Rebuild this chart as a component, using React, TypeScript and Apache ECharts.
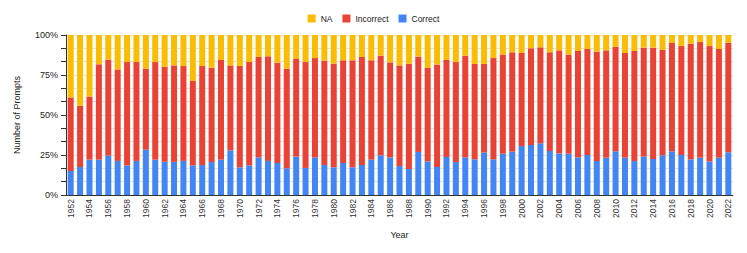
import React, { useEffect, useRef } from "react";
import * as echarts from "echarts";

const years: string[] = [];
for (let y = 1952; y <= 2022; y++) years.push(String(y));

const correct = [
  15, 17.5, 22.1, 22.1, 24.6, 21.3, 18.5, 21.3, 28.3, 22.1,
  20.8, 20.7, 21.3, 18.5, 18.75, 20.6, 22.1, 27.9, 17.3, 18.5,
  23.5, 21.3, 20, 16.7, 24, 16.9, 23.5, 18.75, 17.3, 20,
  17.3, 18.75, 22.1, 24.8, 23.5, 18.1, 16.25, 26.9, 21, 17.5,
  23.75, 20.6, 23.5, 22.3, 26.5, 22.3, 25.8, 27.1, 30.6, 31.25,
  32.3, 27.5, 26, 25.8, 23.5, 25, 21.25, 23.3, 27.3, 23.3,
  21.25, 24, 22.5, 24.8, 27.3, 25, 22.3, 23.3, 21, 23.3,
  26.7,
];

const incorrect = [
  46, 38.3, 39.4, 59.6, 60, 57.2, 64.6, 61.8, 50.7, 61,
  59.4, 60.3, 59.3, 52.8, 61.85, 59, 62.3, 53.1, 63.3, 64.6,
  62.75, 65.4, 62.7, 62.2, 61, 66.2, 62.1, 65.25, 64.8, 64.2,
  66.9, 67.5, 62.1, 62.3, 59.4, 62.9, 65.85, 59.6, 58.4, 64,
  60.65, 62.5, 63.6, 59.6, 55.4, 63.3, 62, 62.1, 58.15, 60.45,
  60, 61.7, 64.4, 61.9, 66.5, 66.25, 68.35, 67.1, 65.3, 65.45,
  68.75, 68.1, 69.6, 66, 67.7, 68.1, 72.3, 72.3, 72.1, 67.95,
  68.5,
];

const na = [
  39, 44.2, 38.5, 18.3, 15.4, 21.5, 16.9, 16.9, 21, 16.9,
  19.8, 19, 19.4, 28.7, 19.4, 20.4, 15.6, 19, 19.4, 16.9,
  13.75, 13.3, 17.3, 21.1, 15, 16.9, 14.4, 16, 17.9, 15.8,
  15.8, 13.75, 15.8, 12.9, 17.1, 19, 17.9, 13.5, 20.6, 18.5,
  15.6, 16.9, 12.9, 18.1, 18.1, 14.4, 12.2, 10.8, 11.25, 8.3,
  7.7, 10.8, 9.6, 12.3, 10, 8.75, 10.4, 9.6, 7.4, 11.25,
  10, 7.9, 7.9, 9.2, 5, 6.9, 5.4, 4.4, 6.9, 8.75,
  4.8,
];

const FONT = "'Liberation Sans', Arial, sans-serif";

export default function App() {
  const ref = useRef<HTMLDivElement>(null);
  useEffect(() => {
    if (!ref.current) return;
    const chart = echarts.init(ref.current, undefined, { renderer: "svg" });
    chart.setOption({
      animation: false,
      textStyle: { fontFamily: FONT },
      legend: {
        top: 9,
        left: "center",
        data: ["NA", "Incorrect", "Correct"],
        icon: "rect",
        itemWidth: 8,
        itemHeight: 8,
        itemGap: 10,
        textStyle: { fontSize: 8.5, color: "#222", fontFamily: FONT },
      },
      grid: { left: 66, right: 14, top: 35, bottom: 58 },
      xAxis: {
        type: "category",
        data: years,
        name: "Year",
        nameLocation: "middle",
        nameGap: 35,
        nameTextStyle: { fontSize: 9, color: "#222" },
        axisLine: { lineStyle: { color: "#333" } },
        axisTick: { show: false },
        axisLabel: { interval: 1, rotate: 90, fontSize: 8.5, color: "#333", margin: 4 },
      },
      yAxis: {
        type: "value",
        min: 0,
        max: 100,
        interval: 25,
        name: "Number of Prompts",
        nameLocation: "middle",
        nameGap: 45,
        nameTextStyle: { fontSize: 9, color: "#222" },
        axisLine: { show: true, lineStyle: { color: "#333" } },
        axisTick: { show: true, length: 5, lineStyle: { color: "#333" } },
        minorTick: { show: true, splitNumber: 3, length: 5, lineStyle: { color: "#333" } },
        splitLine: { show: true, lineStyle: { color: "#e2e2e2" } },
        minorSplitLine: { show: true, lineStyle: { color: "#e2e2e2" } },
        axisLabel: { formatter: "{value}%", fontSize: 9, color: "#222", margin: 8 },
      },
      series: [
        { name: "Correct", type: "bar", stack: "s", data: correct, barWidth: "64%", itemStyle: { color: "#4285F4" } },
        { name: "Incorrect", type: "bar", stack: "s", data: incorrect, barWidth: "64%", itemStyle: { color: "#EA4335" } },
        { name: "NA", type: "bar", stack: "s", data: na, barWidth: "64%", itemStyle: { color: "#FBBC04" } },
      ],
    });
    return () => chart.dispose();
  }, []);
  return (
    <div
      ref={ref}
      style={{ position: "fixed", left: 0, top: 0, width: 747, height: 253, background: "#fff" }}
    />
  );
}
